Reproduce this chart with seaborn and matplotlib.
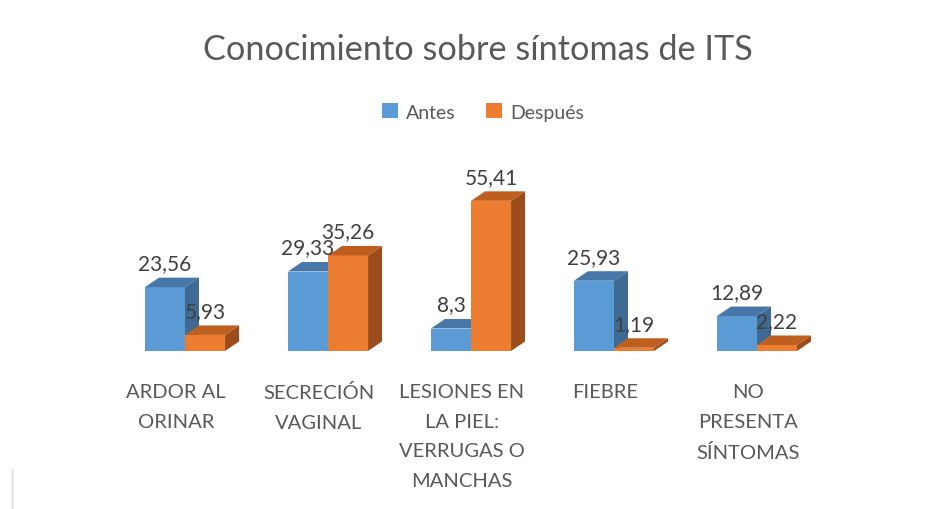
import matplotlib
matplotlib.use("Agg")
import matplotlib.pyplot as plt
from matplotlib.patches import Polygon, Patch
from matplotlib.lines import Line2D
import matplotlib.transforms as mtransforms
import seaborn as sns
import pandas as pd

categories = ["ARDOR AL\nORINAR", "SECRECIÓN\nVAGINAL", "LESIONES EN\nLA PIEL:\nVERRUGAS O\nMANCHAS",
              "FIEBRE", "NO\nPRESENTA\nSÍNTOMAS"]
antes = [23.56, 29.33, 8.3, 25.93, 12.89]
despues = [5.93, 35.26, 55.41, 1.19, 2.22]
series = ["Antes", "Después"]
title = "Conocimiento sobre síntomas de ITS"

df = pd.DataFrame({
    "cat": categories * 2,
    "val": antes + despues,
    "serie": [series[0]] * len(categories) + [series[1]] * len(categories),
})

FONT = "Lato"
front = {"Antes": "#5B9BD5", "Después": "#ED7D31"}
top_c = {"Antes": "#4677A8", "Después": "#BE5F20"}
side_c = {"Antes": "#3E6A93", "Después": "#9C4D1B"}
GREY = "#595959"
DARK = "#404040"

sns.set_theme(style="white")
plt.rcParams["font.family"] = [FONT, "DejaVu Sans"]

W, H = 935, 510
fig = plt.figure(figsize=(W / 100, H / 100), dpi=100)
fig.patch.set_facecolor("white")

px_per_cat = 143.0
ax_left = 185 - 0.5 * px_per_cat
base_y = 352
ymax = 60
px_per_unit = 2.71
ax = fig.add_axes([ax_left / W, (H - base_y) / H, 5 * px_per_cat / W, ymax * px_per_unit / H])

sns.barplot(data=df, x="cat", y="val", hue="serie", hue_order=series, palette=front,
            width=0.56, gap=0, ax=ax, legend=False, saturation=1, errorbar=None)
ax.set_xlim(-0.5, 4.5)
ax.set_ylim(0, ymax)
ax.axis("off")

dx = 14 / px_per_cat
dy = 9.5 / px_per_unit

for ci, (container, s) in enumerate(zip(ax.containers, series)):
    z = 2 + ci * 3
    for bar in container:
        x, w, h = bar.get_x(), bar.get_width(), bar.get_height()
        bar.set_zorder(z)
        bar.set_edgecolor("none")
        side = Polygon([(x + w, 0), (x + w + dx, dy), (x + w + dx, h + dy), (x + w, h)],
                       closed=True, facecolor=side_c[s], edgecolor="none", zorder=z + 1)
        topf = Polygon([(x, h), (x + dx, h + dy), (x + w + dx, h + dy), (x + w, h)],
                       closed=True, facecolor=top_c[s], edgecolor="none", zorder=z + 1)
        ax.add_patch(side)
        ax.add_patch(topf)
        lab = f"{h:g}".replace(".", ",")
        ax.annotate(lab, (x + w / 2, h), xytext=(0, 24), textcoords="offset pixels",
                    ha="center", va="center", fontsize=15, color=DARK, zorder=20,
                    annotation_clip=False)

off = mtransforms.offset_copy(ax.transData, fig=fig, x=-9, y=-32, units="dots")
for i, c in enumerate(categories):
    ax.text(i, 0, c, transform=off, ha="center", va="top", multialignment="center",
            fontsize=14.5, color=GREY, linespacing=1.9, clip_on=False)

fig.text(478 / W, 1 - 50 / H, title, ha="center", va="center", fontsize=24.7, color=GREY)

handles = [Patch(facecolor=front[s], edgecolor="none") for s in series]
fig.legend(handles, series, loc="center", bbox_to_anchor=(483 / W, 1 - 113 / H), ncol=2,
           frameon=False, fontsize=14, labelcolor=GREY, handlelength=0.8, handleheight=0.8,
           handletextpad=0.4, columnspacing=1.6)

fig.add_artist(Line2D([12 / W, 12 / W], [0, 40 / H], color="#D9D9D9", lw=1))

fig.savefig("out.png", dpi=100)
